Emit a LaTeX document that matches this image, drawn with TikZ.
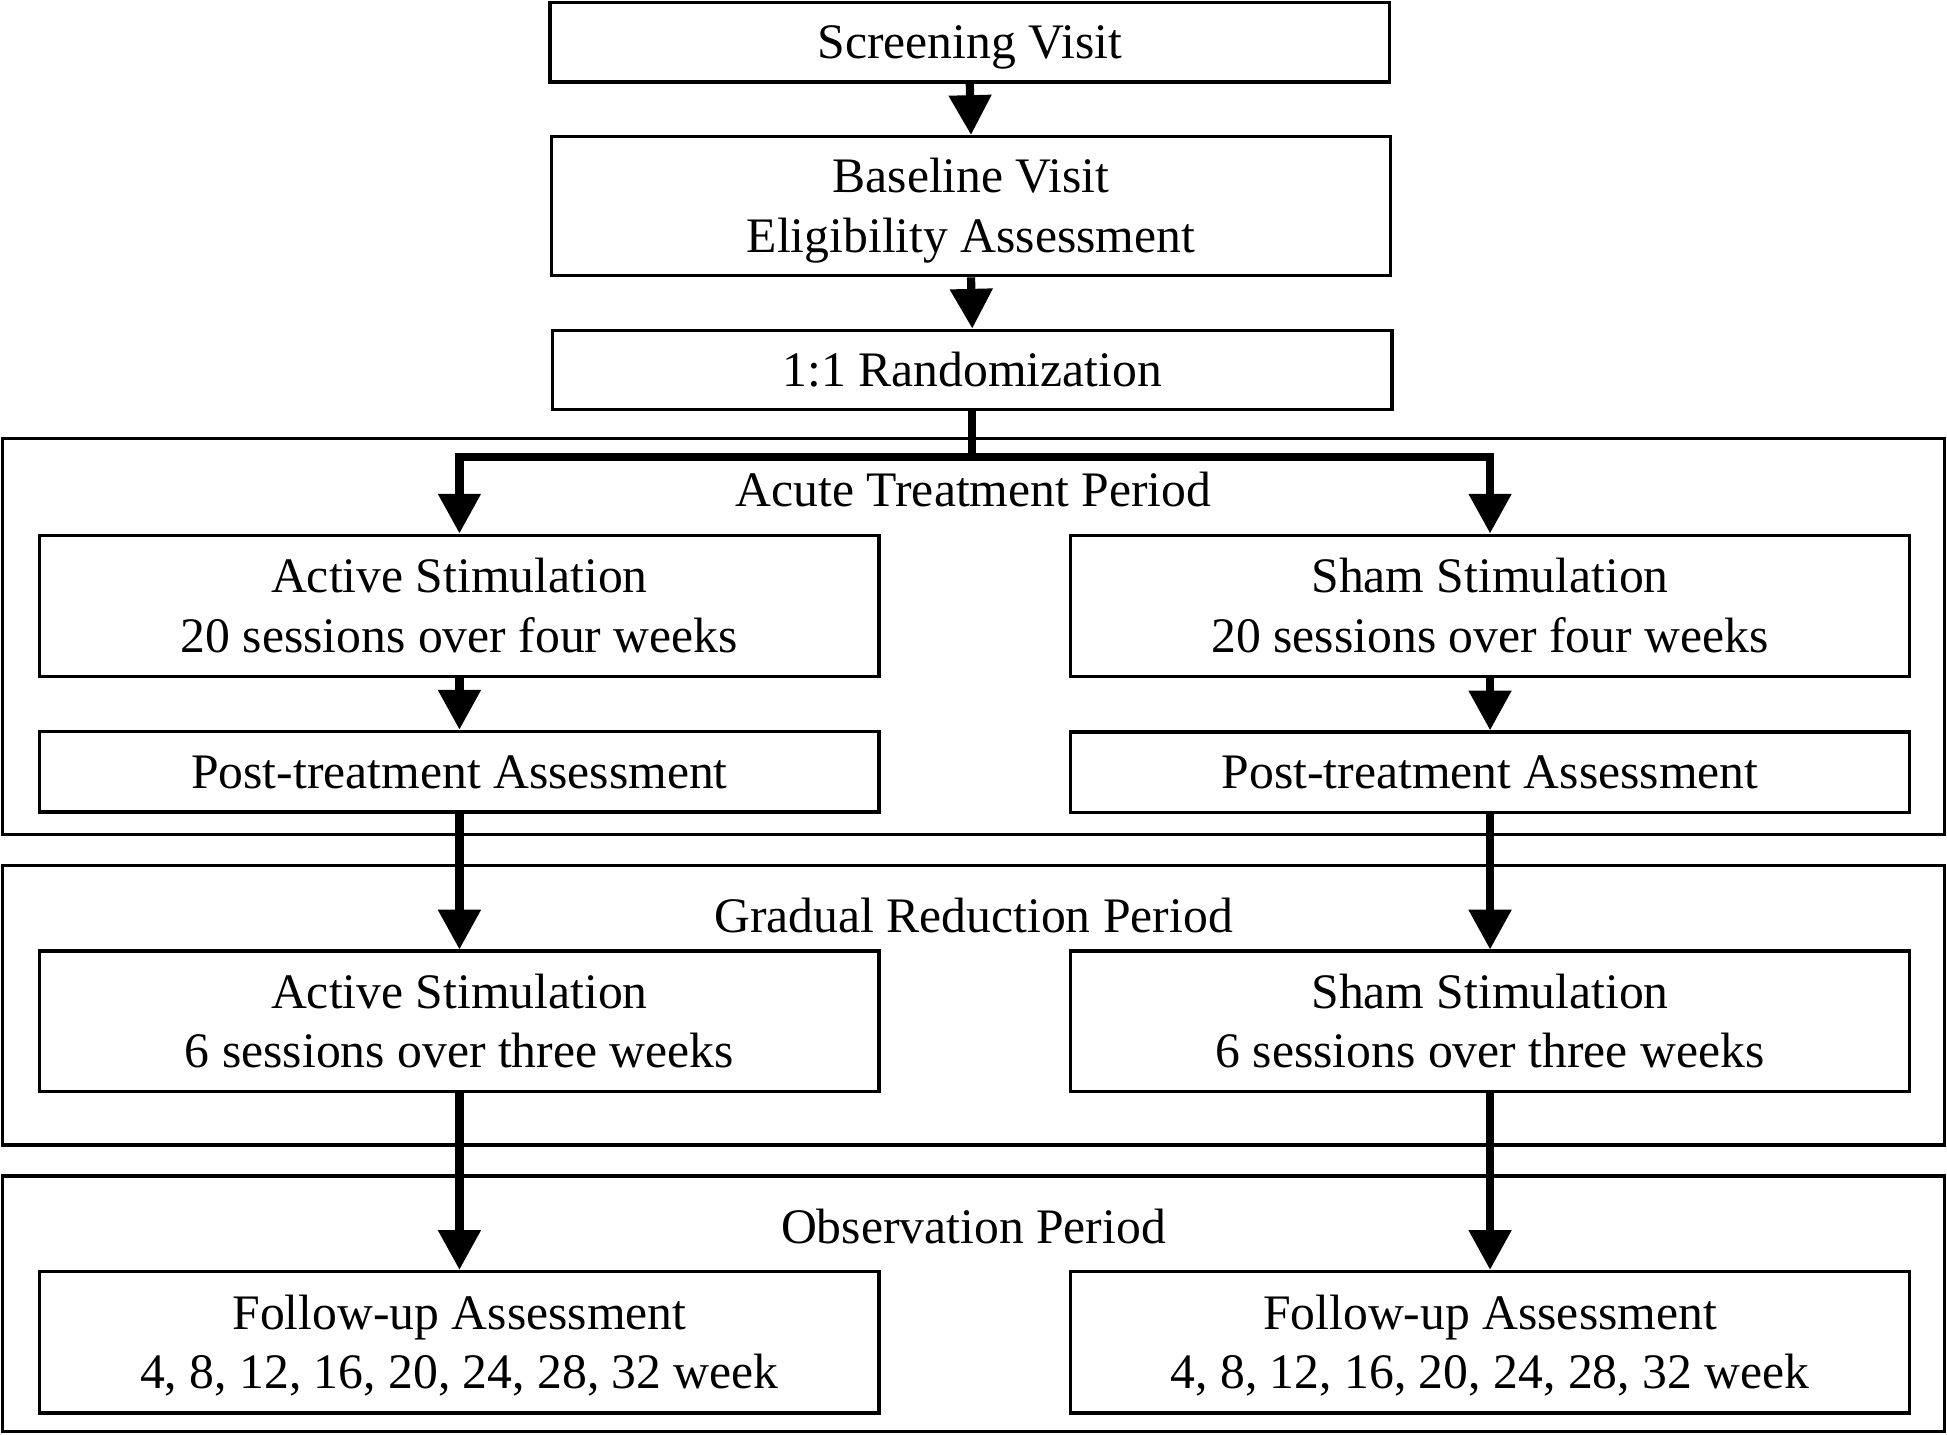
\documentclass[tikz,border=0pt]{standalone}
\usepackage{fontspec}
\setmainfont{Liberation Serif}
\usetikzlibrary{arrows.meta}
\begin{document}
\begin{tikzpicture}[x=0.5pt,y=-0.5pt,
  font=\fontsize{20pt}{24pt}\selectfont,
  captext/.style={text height=13.3pt,text depth=0pt},
  twolines/.style={text height=37.3pt,text depth=0pt},
  stagebox/.style={draw,line width=1.35pt,rectangle,inner sep=0pt,
    minimum width=338pt,align=center,captext},
  framebox/.style={draw,line width=1.35pt,rectangle,inner sep=0pt,
    minimum width=782pt},
  conn/.style={line width=3.3pt},
  arr/.style={line width=3.3pt,-{Triangle[length=16pt,width=16.5pt]}},
  periodlabel/.style={inner sep=0pt,captext}]
\useasboundingbox (0,0) rectangle (1568,1155);
% period frames
\node[framebox,minimum height=159.5pt] (acute) at (784,512.5) {};
\node[framebox,minimum height=112.5pt] (gradual) at (784,809.5) {};
\node[framebox,minimum height=103pt] (observ) at (784,1050) {};
% top boxes
\node[stagebox,minimum height=32pt] (screen) at (781,34) {Screening Visit};
\node[stagebox,twolines,minimum height=56pt] (base) at (782,166) {Baseline Visit\\Eligibility Assessment};
\node[stagebox,minimum height=32pt] (rand) at (783,298) {1:1 Randomization};
% period labels
\node[periodlabel] (acutelbl) at (784,395) {Acute Treatment Period};
\node[periodlabel] (gradlbl) at (784,737.5) {Gradual Reduction Period};
\node[periodlabel] (obslbl) at (784,988.5) {Observation Period};
% left column
\node[stagebox,twolines,minimum height=57pt] (a1) at (370,488) {Active Stimulation\\20 sessions over four weeks};
\node[stagebox,minimum height=32.5pt] (a2) at (370,621.5) {Post-treatment Assessment};
\node[stagebox,twolines,minimum height=56.5pt] (a3) at (370,822.5) {Active Stimulation\\6 sessions over three weeks};
\node[stagebox,twolines,minimum height=57pt] (a4) at (370,1081) {Follow-up Assessment\\4, 8, 12, 16, 20, 24, 28, 32 week};
% right column
\node[stagebox,twolines,minimum height=57pt] (s1) at (1200,488) {Sham Stimulation\\20 sessions over four weeks};
\node[stagebox,minimum height=32.5pt] (s2) at (1200,622) {Post-treatment Assessment};
\node[stagebox,twolines,minimum height=56.5pt] (s3) at (1200,822.5) {Sham Stimulation\\6 sessions over three weeks};
\node[stagebox,twolines,minimum height=57pt] (s4) at (1200,1081) {Follow-up Assessment\\4, 8, 12, 16, 20, 24, 28, 32 week};
% connectors
\coordinate (bl) at (370,368);
\coordinate (br) at (1200,368);
\draw[arr] (screen.south) -- (base.north);
\draw[arr] (base.south) -- (rand.north);
\draw[conn] (rand.south) -- (rand.south |- bl);
\draw[conn,line cap=rect] (bl) -- (br);
\draw[arr] (bl) -- (a1.north);
\draw[arr] (br) -- (s1.north);
\draw[arr] (a1.south) -- (a2.north);
\draw[arr] (s1.south) -- (s2.north);
\draw[arr] (a2.south) -- (a3.north);
\draw[arr] (s2.south) -- (s3.north);
\draw[arr] (a3.south) -- (a4.north);
\draw[arr] (s3.south) -- (s4.north);
\end{tikzpicture}
\end{document}
